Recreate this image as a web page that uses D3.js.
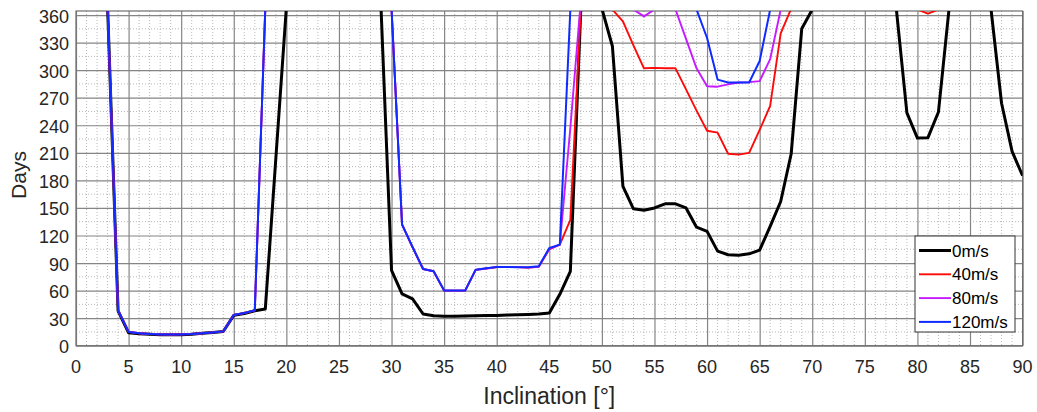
<!DOCTYPE html>
<html>
<head>
<meta charset="utf-8">
<script src="https://cdn.jsdelivr.net/npm/d3@7"></script>
<style>
  html, body { margin: 0; padding: 0; background: #fff; }
  svg { display: block; font-family: "Liberation Sans", Arial, Helvetica, sans-serif; }
</style>
</head>
<body>
<svg id="chart" width="1037" height="412"></svg>
<script>
// ---------------- DATA ----------------
const inclination = d3.range(0, 91); // 0..90 deg, 1 deg step
const xTicks = [0,5,10,15,20,25,30,35,40,45,50,55,60,65,70,75,80,85,90];
const yTicks = [0,30,60,90,120,150,180,210,240,270,300,330,360];
const seriesNames = ["0m/s", "40m/s", "80m/s", "120m/s"];
const seriesColors = ["#000000", "#ff0a0a", "#c61aff", "#0f2bff"];
const _ = null;

// values indexed by inclination (null = no data / off chart)
const days0 = [
  _,_,_,370,38,14,13,12.5,12,12, 12,12.5,13.5,14.5,15.5,33,35,38,40,204,
  368,_,_,_,_,_,_,_,_,368, 82,56.5,51,34.5,32.5,32,32,32.2,32.5,32.8,
  33,33.3,33.6,34,34.5,35.5,56,81,368,_, 367,326,173.5,149,147.5,150,154.5,154.5,150,129,
  124.5,103,99,98.5,100,104,130,157,209,345, 366,_,_,_,_,_,_,_,366,253.5,
  226,226.5,254.5,366,_,_,_,366,264,211.5, 185
];
const days40 = [
  _,_,_,370,38.5,15,13.5,12.8,12.3,12.2, 12.3,12.7,13.5,14.5,15.6,33.5,35.5,38.5,368,_,
  _,_,_,_,_,_,_,_,_,_, 367,132,107,83.5,81,60,60,60,82.5,84,
  85.5,85.5,85.5,85,86,105,110,137,368,_, _,366,353,327,302,302.5,302,302,279,256,
  234,232,209,208,210,235,261,340,367,_, _,_,_,_,_,_,_,_,_,_,
  366,361.5,366,_,_,_,_,_,_,_, _
];
const days80 = [
  _,_,_,370,38.5,15,13.5,12.8,12.3,12.2, 12.3,12.7,13.5,14.5,15.6,33.5,35.5,38.5,368,_,
  _,_,_,_,_,_,_,_,_,_, 367,132,107,83.5,81,60,60,60,82.5,84,
  85.5,85.5,85.5,85,86,105.5,110,237,376,_, _,_,_,366,358.5,366,_,366,334,302,
  282.5,282,284.5,286.5,287,288,312,366,_,_, _,_,_,_,_,_,_,_,_,_,
  _,_,_,_,_,_,_,_,_,_, _
];
const days120 = [
  _,_,_,370,38.5,15,13.5,12.8,12.3,12.2, 12.3,12.7,13.5,14.5,15.6,33.5,35.5,38.5,368,_,
  _,_,_,_,_,_,_,_,_,_, 367,131.8,107.5,83.5,81,60,60,60,82.8,84.2,
  85.7,85.7,85.5,85.5,86.4,106.4,110,366,_,_, _,_,_,_,_,_,_,_,_,366,
  335,289.7,286.5,286.5,286.5,310,366,_,_,_, _,_,_,_,_,_,_,_,_,_,
  _,_,_,_,_,_,_,_,_,_, _
];
const seriesValues = [days0, days40, days80, days120];
const seriesWidths = [3, 1.9, 1.9, 2];

// ---------------- LAYOUT ----------------
const svg = d3.select("#chart");
const L = 76, R = 1022.6, T = 11, B = 345.7;
const x = d3.scaleLinear().domain([0, 90]).range([L, R]);
const y = d3.scaleLinear().domain([0, 364.4]).range([B, T]);

svg.append("defs").append("clipPath").attr("id", "clip")
  .append("rect").attr("x", L).attr("y", T).attr("width", R - L).attr("height", B - T);

// minor grid
const minorX = d3.range(0, 91).filter(v => v % 5 !== 0);
const minorY = d3.range(15, 361, 30);
const gMinor = svg.append("g");
gMinor.selectAll("line.mx").data(minorX).enter().append("line")
  .attr("x1", d => x(d)).attr("x2", d => x(d)).attr("y1", T).attr("y2", B)
  .attr("stroke", "#b8b8b8").attr("stroke-width", 1).attr("stroke-dasharray", "1,2");
gMinor.selectAll("line.my").data(minorY).enter().append("line")
  .attr("y1", d => y(d)).attr("y2", d => y(d)).attr("x1", L).attr("x2", R)
  .attr("stroke", "#b8b8b8").attr("stroke-width", 1).attr("stroke-dasharray", "1,2");

// major grid via axes
svg.append("g").attr("transform", `translate(0,${B})`)
  .call(d3.axisBottom(x).tickValues(xTicks).tickSize(-(B - T)).tickFormat(""))
  .call(g => g.select(".domain").remove())
  .call(g => g.selectAll("line").attr("stroke", "#858585").attr("stroke-width", 1.2));
svg.append("g").attr("transform", `translate(${L},0)`)
  .call(d3.axisLeft(y).tickValues(yTicks).tickSize(-(R - L)).tickFormat(""))
  .call(g => g.select(".domain").remove())
  .call(g => g.selectAll("line").attr("stroke", "#858585").attr("stroke-width", 1.2));

// box
svg.append("rect").attr("x", L).attr("y", T).attr("width", R - L).attr("height", B - T)
  .attr("fill", "none").attr("stroke", "#6e6e6e").attr("stroke-width", 1.2);

// tick labels
svg.append("g").selectAll("text").data(xTicks).enter().append("text")
  .attr("x", d => x(d)).attr("y", 373).attr("text-anchor", "middle")
  .attr("font-size", "18px").attr("fill", "#262626").text(d => d);
svg.append("g").selectAll("text").data(yTicks).enter().append("text")
  .attr("x", 69).attr("y", d => y(d)).attr("dy", "0.42em").attr("text-anchor", "end")
  .attr("font-size", "18px").attr("fill", "#262626").text(d => d);

// axis titles
svg.append("text").attr("x", (L + R) / 2).attr("y", 404).attr("text-anchor", "middle")
  .attr("font-size", "23px").attr("fill", "#262626").text("Inclination [°]");
svg.append("text").attr("transform", "translate(26,175) rotate(-90)").attr("text-anchor", "middle")
  .attr("font-size", "21px").attr("fill", "#262626").text("Days");

// lines
const line = d3.line()
  .defined(d => d[1] !== null)
  .x(d => x(d[0])).y(d => y(d[1]));
const gLines = svg.append("g").attr("clip-path", "url(#clip)");
seriesValues.forEach((vals, i) => {
  gLines.append("path")
    .datum(inclination.map((inc, k) => [inc, vals[k]]))
    .attr("d", line)
    .attr("fill", "none")
    .attr("stroke", seriesColors[i])
    .attr("stroke-width", seriesWidths[i])
    .attr("stroke-linejoin", "round");
});

// legend
const lg = svg.append("g");
lg.append("rect").attr("x", 915).attr("y", 236).attr("width", 100).attr("height", 96)
  .attr("fill", "#fff").attr("stroke", "#333").attr("stroke-width", 1);
seriesNames.forEach((name, i) => {
  const yy = 250.5 + i * 23.8;
  lg.append("line").attr("x1", 919).attr("x2", 951).attr("y1", yy).attr("y2", yy)
    .attr("stroke", seriesColors[i]).attr("stroke-width", seriesWidths[i]);
  lg.append("text").attr("x", 952).attr("y", yy).attr("dy", "0.36em")
    .attr("font-size", "17px").attr("fill", "#000").text(name);
});
</script>
</body>
</html>
